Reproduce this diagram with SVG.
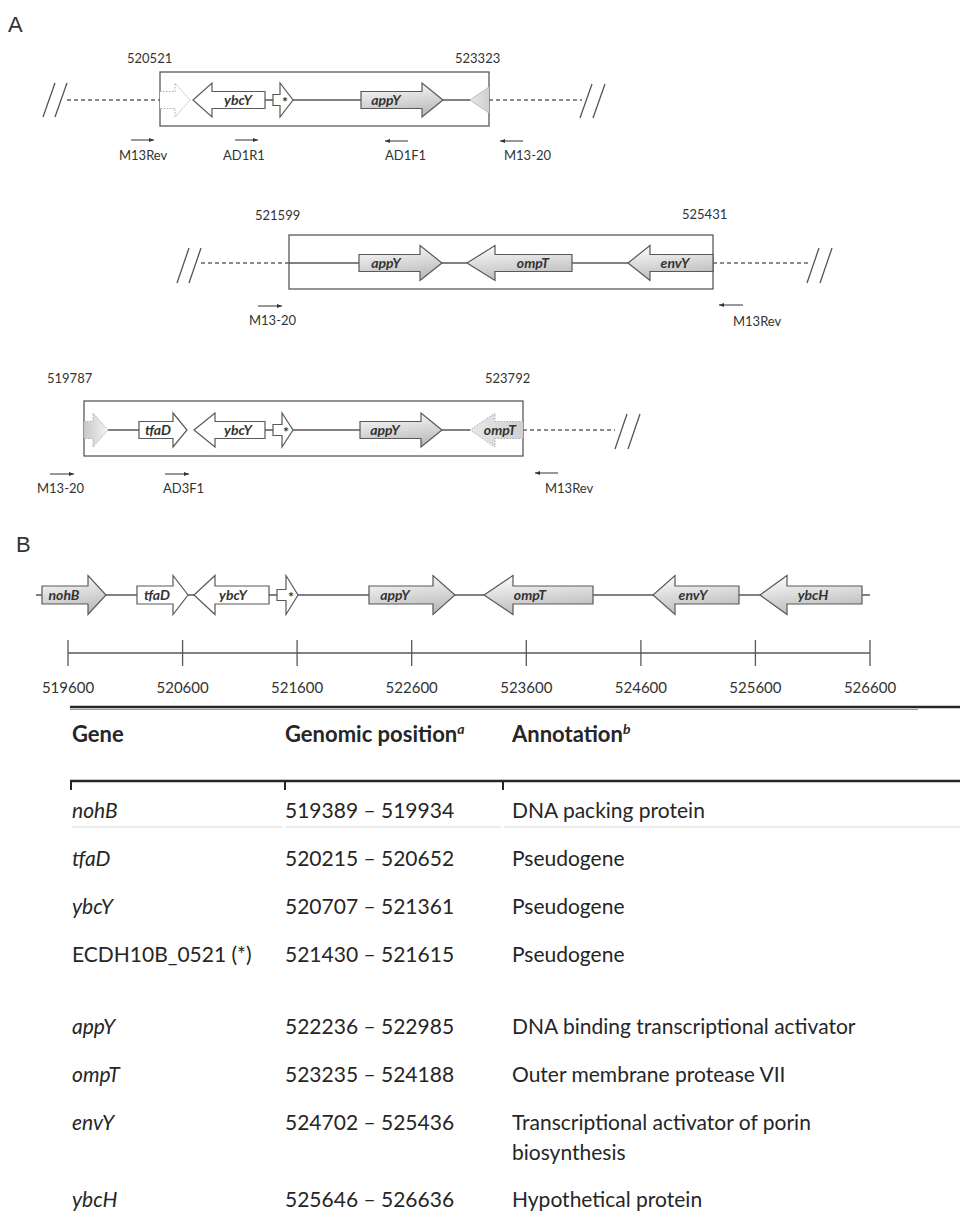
<svg xmlns="http://www.w3.org/2000/svg" width="960" height="1218" viewBox="0 0 960 1218">
<defs>
<linearGradient id="grad" x1="0" y1="0" x2="0.25" y2="1">
<stop offset="0" stop-color="#ffffff"/>
<stop offset="1" stop-color="#bdbdbd"/>
</linearGradient>
<linearGradient id="fadeL" x1="0" y1="0" x2="1" y2="0">
<stop offset="0" stop-color="#c8c8c8"/>
<stop offset="1" stop-color="#f4f4f4"/>
</linearGradient>
<linearGradient id="fadeR" x1="0" y1="0" x2="1" y2="0">
<stop offset="0" stop-color="#e8e8e8"/>
<stop offset="1" stop-color="#d0d0d0"/>
</linearGradient>
<marker id="ah" markerWidth="6" markerHeight="6" refX="5" refY="3" orient="auto" markerUnits="userSpaceOnUse">
<path d="M0,1 L5,3 L0,5 Z" fill="#333"/>
</marker>
<style>
.box{fill:none;stroke:#595959;stroke-width:1.3}
.ln{stroke:#595959;stroke-width:1.3;fill:none}
.dash{stroke:#666;stroke-width:1.3;stroke-dasharray:4 3;fill:none}
.sl{stroke:#555;stroke-width:1.3}
.g{fill:url(#grad);stroke:#595959;stroke-width:1.2}
.w{fill:#fff;stroke:#595959;stroke-width:1.2}
.fd{stroke:#aaa;stroke-width:1;stroke-dasharray:1.5 1.5}
.lbl{font-family:Lato,"Open Sans",sans-serif;font-size:13px;fill:#333}
.gn{font-family:Lato,"Open Sans",sans-serif;font-size:14px;font-weight:bold;font-style:italic;fill:#333;text-anchor:middle}
.st{font-family:Lato,"Open Sans",sans-serif;font-size:14px;font-weight:bold;fill:#333;text-anchor:middle}
.pr{stroke:#333;stroke-width:1;marker-end:url(#ah)}
.pl{font-family:"Liberation Sans",Arial,sans-serif;font-size:22px;fill:#333}
.ax{font-family:Lato,"Open Sans",sans-serif;font-size:15px;fill:#333;text-anchor:middle}
.th{font-family:Lato,"Open Sans",sans-serif;font-size:22px;font-weight:bold;fill:#262626}
.td{font-family:Lato,"Open Sans",sans-serif;font-size:21px;fill:#262626}
.it{font-style:italic}
.rule{stroke:#262626;stroke-width:2.5}
.sep{stroke:#dcdcdc;stroke-width:1.2}
</style>
</defs>

<text class="pl" x="8" y="32">A</text>

<!-- Row 1 -->
<g id="row1">
<text class="lbl" x="127" y="63">520521</text>
<text class="lbl" x="455" y="63">523323</text>
<line class="sl" x1="43" y1="117" x2="55" y2="83"/>
<line class="sl" x1="55" y1="117" x2="67" y2="83"/>
<line class="dash" x1="67" y1="100" x2="160" y2="100"/>
<rect class="box" x="160" y="72" width="329" height="54"/>
<path class="ln" d="M265,100 H273 M293,100 H361 M443,100 H470"/>
<path class="fd" fill="#fff" d="M160,91.5 H175 V83 L190,100 L175,117 V108.5 H160"/>
<g id="r1-ybcY"><path class="w" d="M265,91.5 H212 V83 L193,100 L212,117 V108.5 H265 Z"/><text class="gn" x="238" y="105">ybcY</text></g>
<g id="r1-star"><path class="w" d="M273,94.5 H280 V83 L293,100 L280,117 V105.5 H273 Z"/><text class="st" x="285" y="107">*</text></g>
<g id="r1-appY"><path class="g" d="M361,91.5 H422 V83 L443,100 L422,117 V108.5 H361 Z"/><text class="gn" x="386" y="105">appY</text></g>
<path fill="url(#fadeR)" stroke="#bbb" stroke-width="1" d="M489,87 L470,100 L489,113"/>
<line class="dash" x1="489" y1="100" x2="582" y2="100"/>
<line class="sl" x1="580" y1="118" x2="592" y2="84"/>
<line class="sl" x1="593" y1="118" x2="605" y2="84"/>
<line class="pr" x1="131" y1="140" x2="154" y2="140"/>
<line class="pr" x1="235" y1="140" x2="258" y2="140"/>
<line class="pr" x1="408" y1="141" x2="385" y2="141"/>
<line class="pr" x1="523" y1="141" x2="500" y2="141"/>
<text class="lbl" x="119" y="160">M13Rev</text>
<text class="lbl" x="223" y="160">AD1R1</text>
<text class="lbl" x="385" y="160">AD1F1</text>
<text class="lbl" x="504" y="160">M13-20</text>
</g>

<!-- Row 2 -->
<g id="row2">
<text class="lbl" x="255" y="220">521599</text>
<text class="lbl" x="682" y="219">525431</text>
<line class="sl" x1="177" y1="283" x2="189" y2="248"/>
<line class="sl" x1="189" y1="283" x2="201" y2="248"/>
<line class="dash" x1="201" y1="263" x2="289" y2="263"/>
<rect class="box" x="289" y="235" width="424" height="54"/>
<path class="ln" d="M289,263 H359 M442,263 H467 M572,263 H628"/>
<g id="r2-appY"><path class="g" d="M359,254.5 H420 V245.5 L442,263 L420,280.5 V271.5 H359 Z"/><text class="gn" x="386" y="268">appY</text></g>
<g id="r2-ompT"><path class="g" d="M572,254.5 H495 V245.5 L467,263 L495,280.5 V271.5 H572 Z"/><text class="gn" x="533" y="268">ompT</text></g>
<g id="r2-envY"><path class="g" d="M713,254.5 H650 V245.5 L628,263 L650,280.5 V271.5 H713 Z"/><text class="gn" x="675" y="268">envY</text></g>
<line class="dash" x1="713" y1="263" x2="808" y2="263"/>
<line class="sl" x1="807" y1="283" x2="819" y2="248"/>
<line class="sl" x1="820" y1="283" x2="832" y2="248"/>
<line class="pr" x1="258" y1="306" x2="282" y2="306"/>
<line class="pr" x1="743" y1="305" x2="719" y2="305"/>
<text class="lbl" x="249" y="325">M13-20</text>
<text class="lbl" x="733" y="326">M13Rev</text>
</g>

<!-- Row 3 -->
<g id="row3">
<text class="lbl" x="47" y="383">519787</text>
<text class="lbl" x="485" y="383">523792</text>
<rect class="box" x="84" y="401" width="439" height="55"/>
<path class="ln" d="M108,430 H139 M265,430 H273 M293,430 H360 M442,430 H470"/>
<path class="fd" fill="url(#fadeL)" d="M84,421.5 H93 V413 L108,430 L93,447 V438.5 H84"/>
<g id="r3-tfaD"><path class="w" d="M139,421.5 H173 V413 L187,430 L173,447 V438.5 H139 Z"/><text class="gn" x="158" y="435">tfaD</text></g>
<g id="r3-ybcY"><path class="w" d="M265,421.5 H215 V413 L194,430 L215,447 V438.5 H265 Z"/><text class="gn" x="238" y="435">ybcY</text></g>
<g id="r3-star"><path class="w" d="M273,424.5 H282 V413 L293,430 L282,447 V435.5 H273 Z"/><text class="st" x="286" y="437">*</text></g>
<g id="r3-appY"><path class="g" d="M360,421.5 H421 V413 L442,430 L421,447 V438.5 H360 Z"/><text class="gn" x="385" y="435">appY</text></g>
<g id="r3-ompT"><path class="fd" fill="url(#fadeR)" d="M523,421.5 H495 V413 L470,430 L495,447 V438.5 H523"/><text class="gn" x="500" y="435">ompT</text></g>
<line class="dash" x1="523" y1="430" x2="615" y2="430"/>
<line class="sl" x1="615" y1="449" x2="627" y2="414"/>
<line class="sl" x1="628" y1="449" x2="640" y2="414"/>
<line class="pr" x1="50" y1="474" x2="74" y2="474"/>
<line class="pr" x1="165" y1="474" x2="189" y2="474"/>
<line class="pr" x1="558" y1="473" x2="535" y2="473"/>
<text class="lbl" x="37" y="493">M13-20</text>
<text class="lbl" x="163" y="493">AD3F1</text>
<text class="lbl" x="545" y="493">M13Rev</text>
</g>

<text class="pl" x="16" y="552">B</text>

<!-- Panel B track -->
<g id="trackB">
<line class="ln" x1="36" y1="595" x2="870" y2="595"/>
<g id="b-nohB"><path class="g" d="M42,586 H88 V575.5 L106,595 L88,614.5 V604 H42 Z"/><text class="gn" x="64" y="600">nohB</text></g>
<g id="b-tfaD"><path class="w" d="M137,586 H173 V575.5 L188,595 L173,614.5 V604 H137 Z"/><text class="gn" x="157" y="600">tfaD</text></g>
<g id="b-ybcY"><path class="w" d="M269,586 H215 V575.5 L194,595 L215,614.5 V604 H269 Z"/><text class="gn" x="233" y="600">ybcY</text></g>
<g id="b-star"><path class="w" d="M277,589.5 H286 V575.5 L298,595 L286,614.5 V600.5 H277 Z"/><text class="st" x="291" y="602">*</text></g>
<g id="b-appY"><path class="g" d="M369,586 H433 V575.5 L455,595 L433,614.5 V604 H369 Z"/><text class="gn" x="395" y="600">appY</text></g>
<g id="b-ompT"><path class="g" d="M593,586 H513 V575.5 L484,595 L513,614.5 V604 H593 Z"/><text class="gn" x="530" y="600">ompT</text></g>
<g id="b-envY"><path class="g" d="M739,586 H675 V575.5 L653,595 L675,614.5 V604 H739 Z"/><text class="gn" x="693" y="600">envY</text></g>
<g id="b-ybcH"><path class="g" d="M862,586 H787 V575.5 L760,595 L787,614.5 V604 H862 Z"/><text class="gn" x="813" y="600">ybcH</text></g>
</g>

<!-- Scale -->
<g id="scale">
<line class="ln" x1="68" y1="653" x2="870" y2="653"/>
<path class="ln" d="M68,640 V666 M182.6,640 V666 M297.1,640 V666 M411.7,640 V666 M526.3,640 V666 M640.9,640 V666 M755.4,640 V666 M870,640 V666"/>
<text class="ax" x="68" y="693">519600</text>
<text class="ax" x="182.6" y="693">520600</text>
<text class="ax" x="297.1" y="693">521600</text>
<text class="ax" x="411.7" y="693">522600</text>
<text class="ax" x="526.3" y="693">523600</text>
<text class="ax" x="640.9" y="693">524600</text>
<text class="ax" x="755.4" y="693">525600</text>
<text class="ax" x="870" y="693">526600</text>
</g>

<!-- Table -->
<g id="table">
<line class="rule" x1="70" y1="707" x2="960" y2="707"/>
<line stroke="#9a9a9a" stroke-width="1" x1="70" y1="709.5" x2="918" y2="709.5"/>
<text class="th" x="72" y="742">Gene</text>
<text class="th" x="285" y="742">Genomic position<tspan class="it" font-size="14" dy="-8">a</tspan></text>
<text class="th" x="512" y="742">Annotation<tspan class="it" font-size="14" dy="-8">b</tspan></text>
<line class="rule" x1="70" y1="781" x2="960" y2="781"/>
<path stroke="#262626" stroke-width="2" d="M71,781 V790 M285,781 V790 M503,781 V790"/>
<path class="sep" d="M72,827 H283 M286,827 H501 M504,827 H960"/>
<text class="td it" x="72" y="818">nohB</text>
<text class="td" x="285" y="818">519389 – 519934</text>
<text class="td" x="512" y="818">DNA packing protein</text>
<text class="td it" x="72" y="866">tfaD</text>
<text class="td" x="285" y="866">520215 – 520652</text>
<text class="td" x="512" y="866">Pseudogene</text>
<text class="td it" x="72" y="914">ybcY</text>
<text class="td" x="285" y="914">520707 – 521361</text>
<text class="td" x="512" y="914">Pseudogene</text>
<text class="td" x="72" y="962">ECDH10B_0521 (*)</text>
<text class="td" x="285" y="962">521430 – 521615</text>
<text class="td" x="512" y="962">Pseudogene</text>
<text class="td it" x="72" y="1034">appY</text>
<text class="td" x="285" y="1034">522236 – 522985</text>
<text class="td" x="512" y="1034">DNA binding transcriptional activator</text>
<text class="td it" x="72" y="1082">ompT</text>
<text class="td" x="285" y="1082">523235 – 524188</text>
<text class="td" x="512" y="1082">Outer membrane protease VII</text>
<text class="td it" x="72" y="1130">envY</text>
<text class="td" x="285" y="1130">524702 – 525436</text>
<text class="td" x="512" y="1130">Transcriptional activator of porin</text>
<text class="td" x="512" y="1160">biosynthesis</text>
<text class="td it" x="72" y="1207">ybcH</text>
<text class="td" x="285" y="1207">525646 – 526636</text>
<text class="td" x="512" y="1207">Hypothetical protein</text>
</g>
</svg>
